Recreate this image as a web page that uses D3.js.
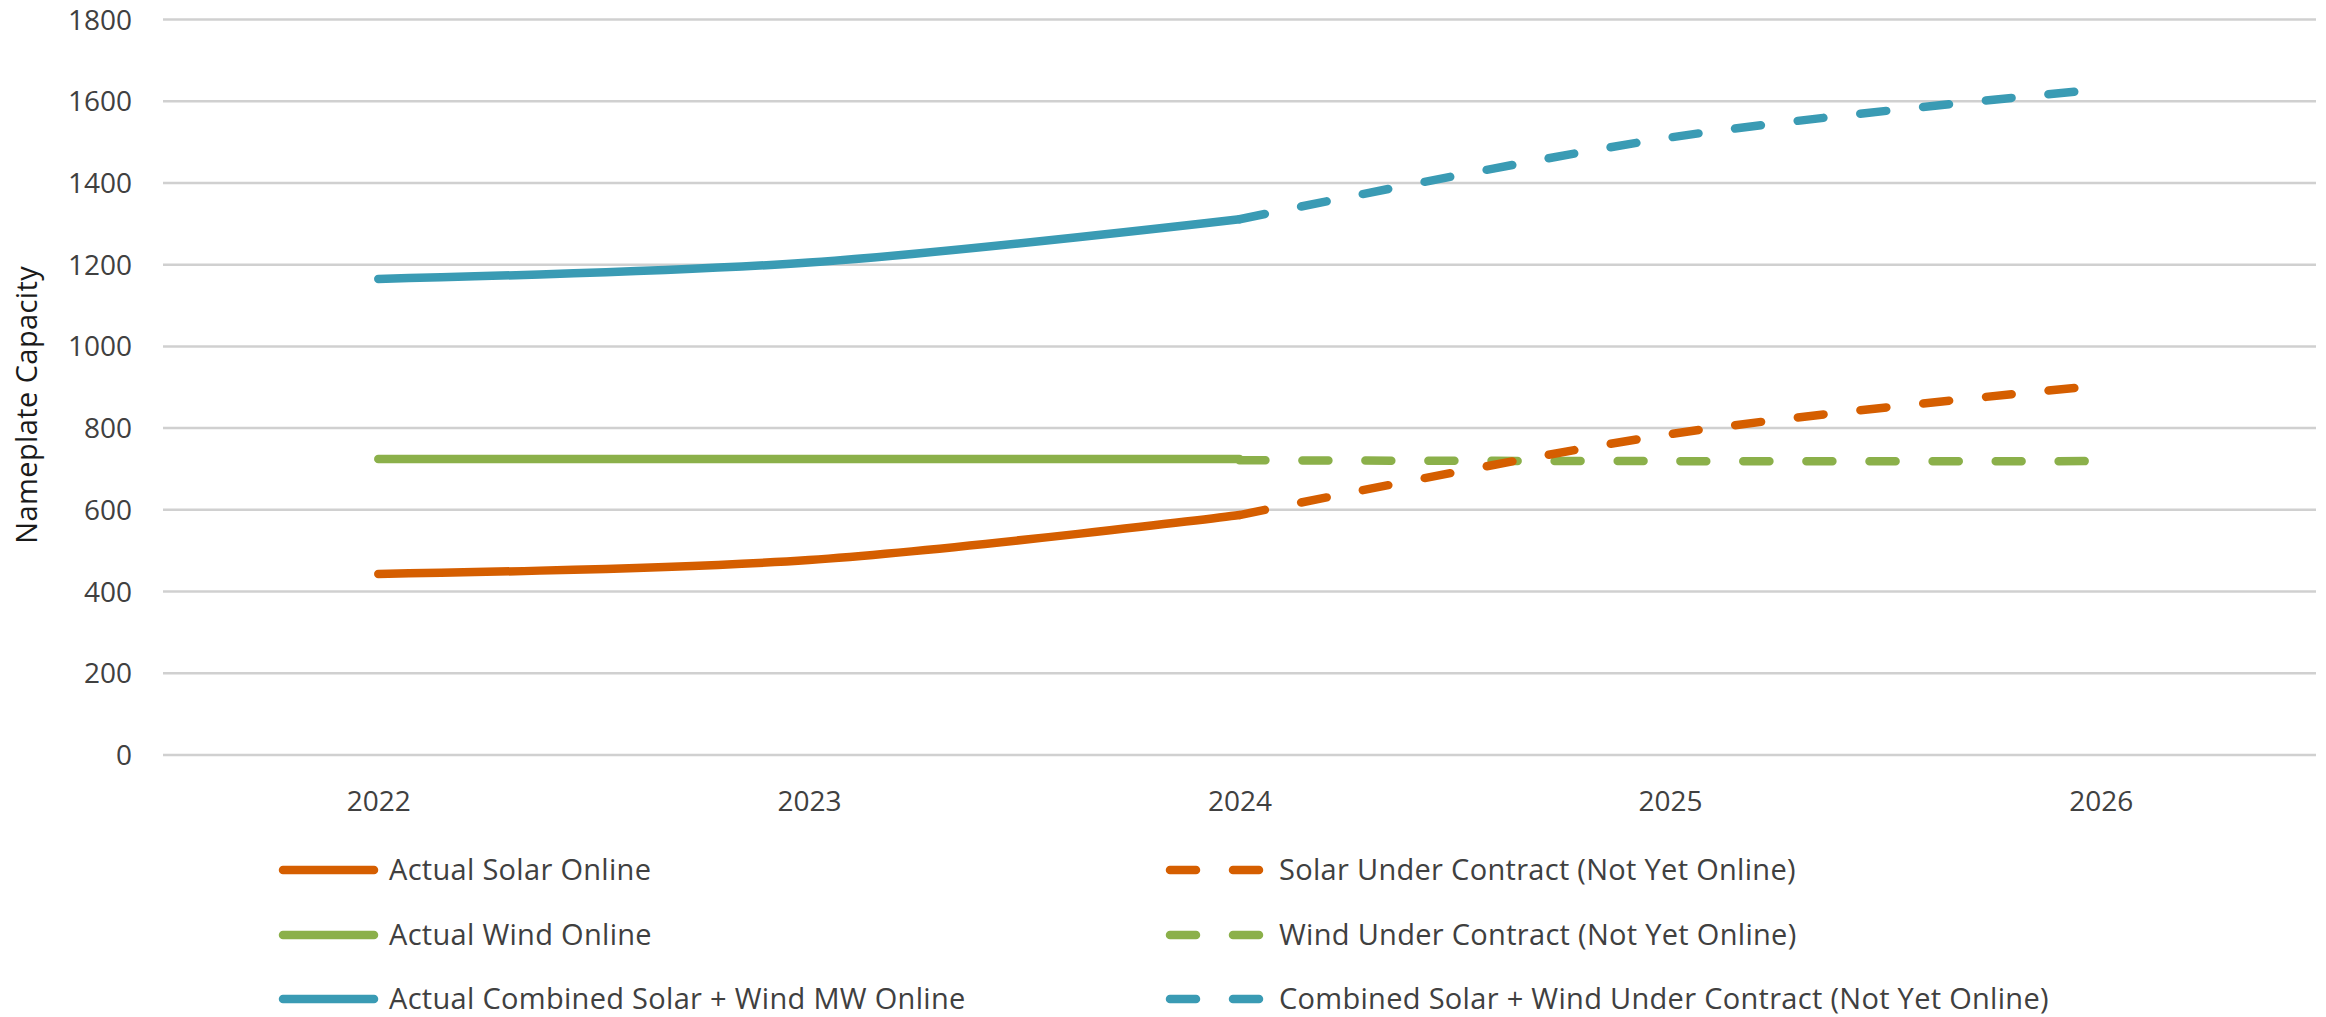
<!DOCTYPE html>
<html>
<head>
<meta charset="utf-8">
<script src="https://cdn.jsdelivr.net/npm/d3@7"></script>
<style>
  html, body { margin: 0; padding: 0; background: #ffffff; }
  svg { display: block; }
  text { font-family: "Open Sans", "Noto Sans", sans-serif; }
</style>
</head>
<body>
<svg id="chart" width="2326" height="1017"></svg>
<script>
// Nameplate capacity (MW) by year
const years = ["2022", "2023", "2024", "2025", "2026"];
const contractYears = ["2024", "2025", "2026"];
const actualYears = ["2022", "2023", "2024"];

const solarActual = [442, 476, 586];
const windActual = [723, 723, 723];
const combinedActual = [1164, 1204, 1310];

const solarContract = [586, 784, 903];
const windContract = [720, 718, 718];
const combinedContract = [1310, 1510, 1628];

const yTicks = [0, 200, 400, 600, 800, 1000, 1200, 1400, 1600, 1800];
const yTitle = "Nameplate Capacity";

const legendLeft = ["Actual Solar Online", "Actual Wind Online", "Actual Combined Solar + Wind MW Online"];
const legendRight = ["Solar Under Contract (Not Yet Online)", "Wind Under Contract (Not Yet Online)", "Combined Solar + Wind Under Contract (Not Yet Online)"];

const colors = { solar: "#D55E00", wind: "#8BB04A", combined: "#3A9BB4" };

const svg = d3.select("#chart");
const plot = { left: 163, right: 2316, top: 19, bottom: 754.5 };
const textColor = "#404040";
const tickFont = 28;
const legendFont = 29;
const lineWidth = 8.5;
const dash = "26,37";

const x = d3.scalePoint().domain(years).range([plot.left, plot.right]).padding(0.5);
const y = d3.scaleLinear().domain([0, 1800]).range([plot.bottom, plot.top]);

// horizontal gridlines with value labels
const yAxis = d3.axisLeft(y).tickValues(yTicks).tickSize(-(plot.right - plot.left)).tickPadding(31).tickFormat(d3.format("d"));
const gy = svg.append("g").attr("transform", `translate(${plot.left},0)`).call(yAxis);
gy.select(".domain").remove();
gy.selectAll(".tick line").attr("stroke", "#D0D0D0").attr("stroke-width", 2.5);
gy.selectAll(".tick text").attr("fill", textColor).style("font-size", tickFont + "px").attr("dy", "0.36em");

// category labels below the plot
const xAxis = d3.axisBottom(x).tickSize(0).tickPadding(0);
const gx = svg.append("g").attr("transform", `translate(0,${plot.bottom})`).call(xAxis);
gx.select(".domain").remove();
gx.selectAll(".tick text").attr("fill", textColor).style("font-size", tickFont + "px").attr("dy", "0").attr("y", 56);

// axis title
svg.append("text")
  .attr("transform", `translate(37,${(plot.top + plot.bottom) / 2 + 18}) rotate(-90)`)
  .attr("text-anchor", "middle")
  .attr("fill", "#1a1a1a")
  .style("font-size", legendFont + "px")
  .style("letter-spacing", "0.4px")
  .text(yTitle);

const line = d3.line()
  .x(d => x(d.year))
  .y(d => y(d.value))
  .curve(d3.curveCardinal.tension(0));

const series = [
  { key: "solar", yrs: actualYears, vals: solarActual, dashed: false },
  { key: "wind", yrs: actualYears, vals: windActual, dashed: false },
  { key: "combined", yrs: actualYears, vals: combinedActual, dashed: false },
  { key: "solar", yrs: contractYears, vals: solarContract, dashed: true },
  { key: "wind", yrs: contractYears, vals: windContract, dashed: true },
  { key: "combined", yrs: contractYears, vals: combinedContract, dashed: true }
];

const order = [1, 0, 2, 4, 3, 5];
order.forEach(i => {
  const s = series[i];
  const pts = s.yrs.map((yr, j) => ({ year: yr, value: s.vals[j] }));
  svg.append("path")
    .attr("d", line(pts))
    .attr("fill", "none")
    .attr("stroke", colors[s.key])
    .attr("stroke-width", lineWidth)
    .attr("stroke-linecap", "round")
    .attr("stroke-linejoin", "round")
    .attr("stroke-dasharray", s.dashed ? dash : null);
});

// legend: solid series on the left, contract series on the right
const rowY = [870, 935, 999];
const keys = ["solar", "wind", "combined"];
keys.forEach((k, i) => {
  svg.append("line")
    .attr("x1", 283).attr("x2", 374).attr("y1", rowY[i]).attr("y2", rowY[i])
    .attr("stroke", colors[k]).attr("stroke-width", lineWidth).attr("stroke-linecap", "round");
  svg.append("text")
    .attr("x", 389).attr("y", rowY[i]).attr("dy", "0.35em")
    .attr("fill", textColor).style("font-size", legendFont + "px")
    .style("letter-spacing", "0.3px")
    .text(legendLeft[i]);

  svg.append("line")
    .attr("x1", 1170).attr("x2", 1262).attr("y1", rowY[i]).attr("y2", rowY[i])
    .attr("stroke", colors[k]).attr("stroke-width", lineWidth).attr("stroke-linecap", "round")
    .attr("stroke-dasharray", dash);
  svg.append("text")
    .attr("x", 1279).attr("y", rowY[i]).attr("dy", "0.35em")
    .attr("fill", textColor).style("font-size", legendFont + "px")
    .style("letter-spacing", "0.3px")
    .text(legendRight[i]);
});
</script>
</body>
</html>
